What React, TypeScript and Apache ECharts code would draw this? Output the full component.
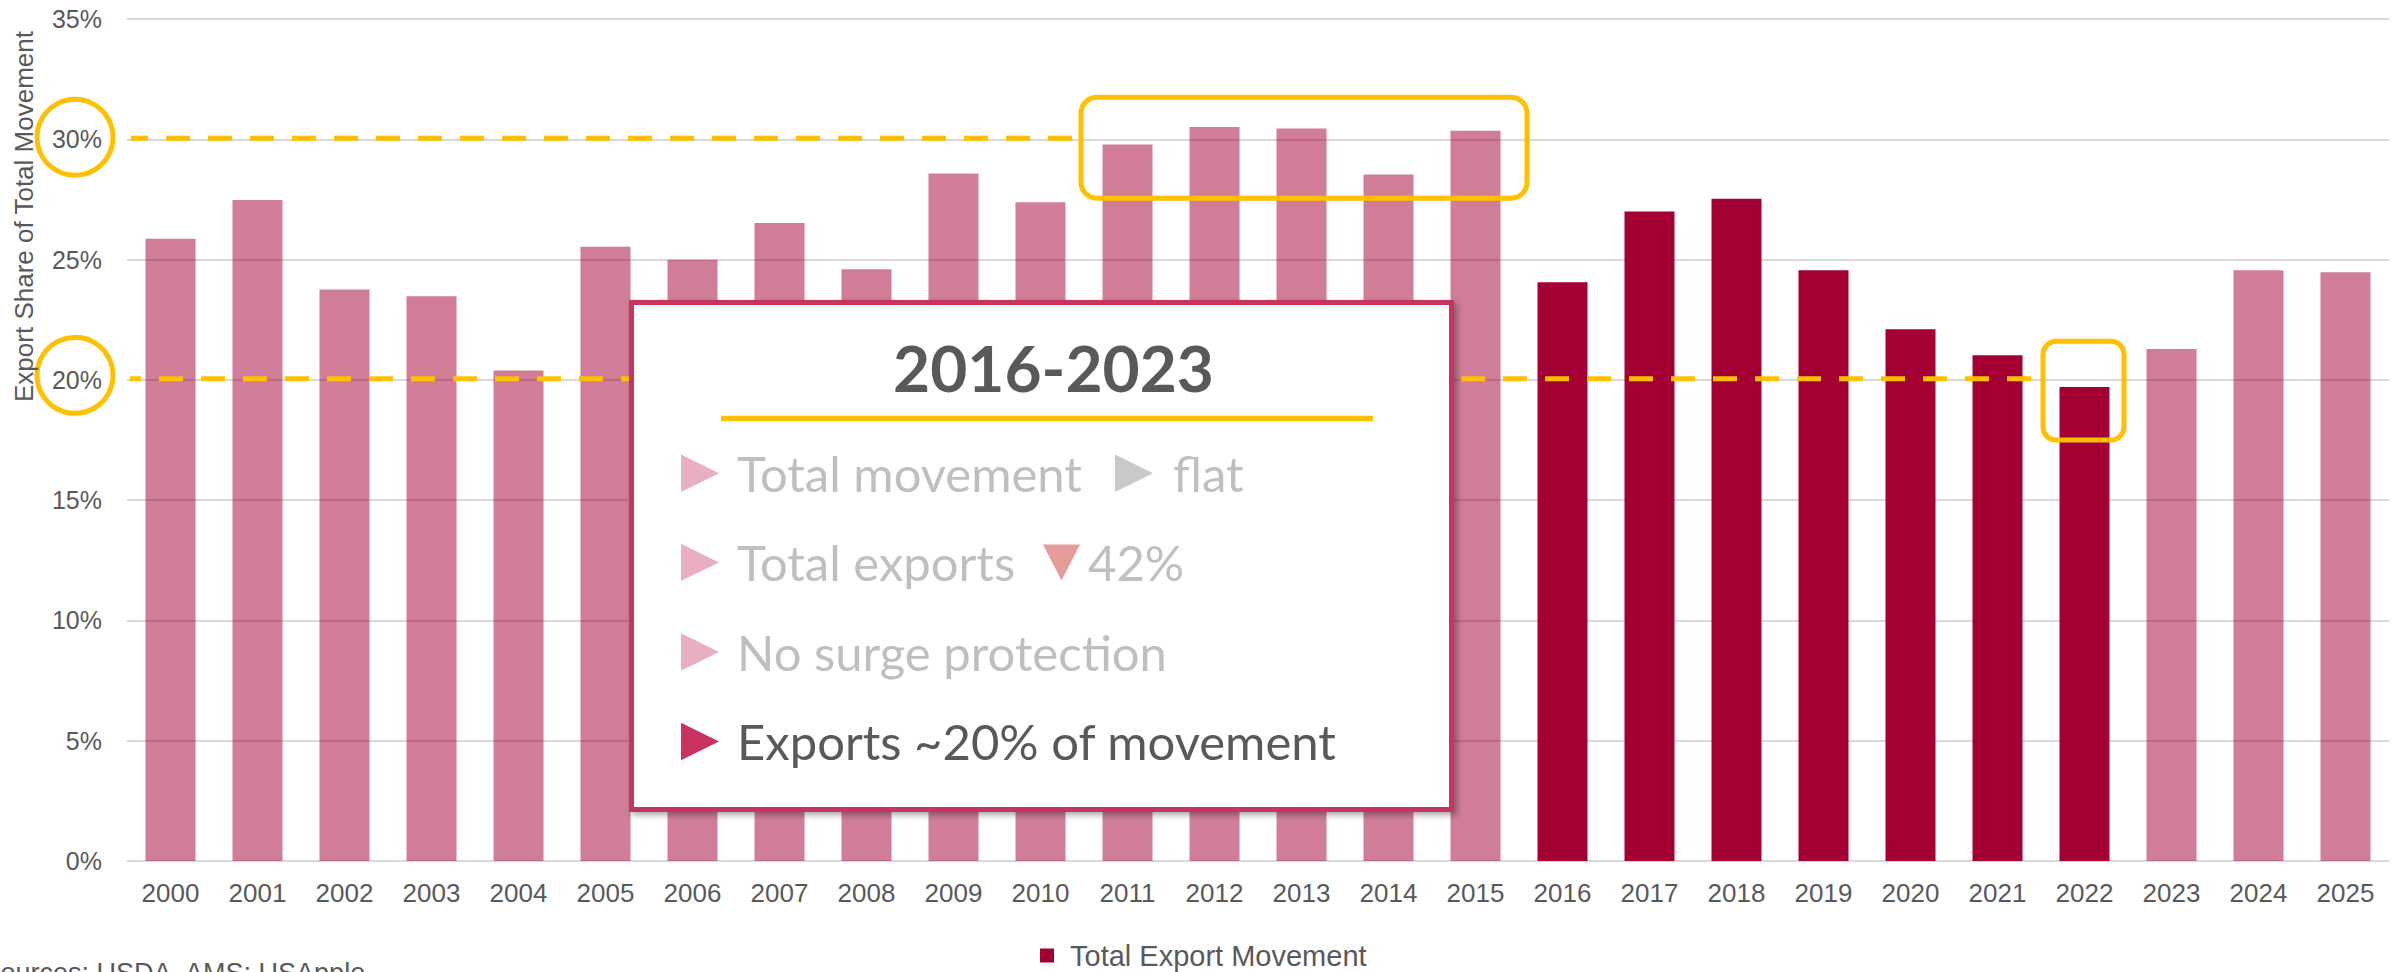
import React, { useEffect, useRef } from "react";
import * as echarts from "echarts";

// ---- data ----
const years = [
  "2000", "2001", "2002", "2003", "2004", "2005", "2006", "2007", "2008", "2009",
  "2010", "2011", "2012", "2013", "2014", "2015", "2016", "2017", "2018", "2019",
  "2020", "2021", "2022", "2023", "2024", "2025",
];
const exportShare = [
  25.87, 27.48, 23.76, 23.48, 20.39, 25.53, 24.99, 26.52, 24.6, 28.58,
  27.38, 29.78, 30.51, 30.45, 28.54, 30.35, 24.06, 27.0, 27.53, 24.56,
  22.1, 21.02, 19.7, 21.28, 24.56, 24.47,
];
const highlightedYears = ["2016", "2017", "2018", "2019", "2020", "2021", "2022"];
const yMin = 0;
const yMax = 35;
const yInterval = 5;
const seriesName = "Total Export Movement";
const yAxisTitle = "Export Share of Total Movement";
const sourceNote = "Sources: USDA, AMS; USApple";
const referenceLevels = [30, 20];
const plateauYears = ["2011", "2012", "2013", "2014", "2015"];
const lowYear = "2022";
const panelTitle = "2016-2023";
const panelLine1 = ["Total movement", "flat"];
const panelLine2 = ["Total exports", "42%"];
const panelLine3 = "No surge protection";
const panelLine4 = "Exports ~20% of movement";

const FONT = "'Liberation Sans', Arial, sans-serif";
const PFONT = "Lato, 'Open Sans', sans-serif";
const DARK = "#A50034";
const GRAY = "#595959";
const YELLOW = "#FFC000";

export default function App() {
  const ref = useRef<HTMLDivElement>(null);

  useEffect(() => {
    if (!ref.current) return;
    const chart = echarts.init(ref.current, null, { renderer: "svg" });

    const barData = exportShare.map((v, i) => ({
      value: v,
      itemStyle: {
        color: DARK,
        opacity: highlightedYears.includes(years[i]) ? 1 : 0.51,
      },
    }));

    chart.setOption({
      animation: false,
      textStyle: { fontFamily: FONT },
      grid: { left: 127, right: 18, top: 19, bottom: 111, containLabel: false },
      legend: {
        data: [seriesName],
        left: 1040,
        top: 941,
        padding: 0,
        itemWidth: 14,
        itemHeight: 14,
        icon: "rect",
        textStyle: { fontSize: 29, color: GRAY, fontFamily: FONT, padding: [0, 0, 0, 11] },
      },
      xAxis: {
        type: "category",
        data: years,
        axisLine: { show: false },
        axisTick: { show: false },
        axisLabel: { fontSize: 26, color: GRAY, margin: 19, fontFamily: FONT },
      },
      yAxis: {
        type: "value",
        min: yMin,
        max: yMax,
        interval: yInterval,
        axisLine: { show: false },
        axisTick: { show: false },
        axisLabel: { formatter: "{value}%", fontSize: 25, color: GRAY, margin: 25, fontFamily: FONT },
        splitLine: { lineStyle: { color: "#D9D9D9", width: 2 } },
      },
      series: [
        {
          name: seriesName,
          type: "bar",
          barWidth: 50,
          itemStyle: { color: DARK },
          data: barData,
        },
      ],
    });

    const cx = (i: number) => chart.convertToPixel({ xAxisIndex: 0 }, i) as number;
    const cy = (v: number) => chart.convertToPixel({ yAxisIndex: 0 }, v) as number;
    const band = cx(1) - cx(0);
    const gridLeft = cx(0) - band / 2;
    const idx = (y: string) => years.indexOf(y);

    const hb1Left = cx(idx(plateauYears[0])) - band / 2 - 3;
    const hb1Right = cx(idx(plateauYears[plateauYears.length - 1])) + band / 2 + 8;
    const hb1Top = cy(31.75);
    const hb1Bottom = cy(27.55);

    const hb2Left = cx(idx(lowYear)) - 41.5;
    const hb2Right = cx(idx(lowYear)) + 39.5;
    const hb2Top = cy(21.6);
    const hb2Bottom = cy(17.5);

    const dashStyle = (offset: number) => ({
      stroke: YELLOW,
      lineWidth: 5,
      lineDash: [24, 18],
      lineDashOffset: offset,
    });

    const rightTri = (x: number, yc: number, fill: string) => ({
      type: "polygon",
      z: 61,
      shape: { points: [[x, yc - 18.7], [x + 38, yc], [x, yc + 18.7]] },
      style: { fill },
    });
    const ptext = (text: string, x: number, y: number, fill: string, extra: any = {}) => ({
      type: "text",
      z: 61,
      x,
      y,
      style: {
        text,
        fill,
        fontSize: 49,
        fontFamily: PFONT,
        align: "left",
        verticalAlign: "middle",
        ...extra,
      },
    });

    const l1 = 473.2, l2 = 562.4, l3 = 652, l4 = 741.5;
    const triX = 681;
    const txX = 737;

    chart.setOption({
      graphic: [
        // reference dashed lines
        {
          type: "line",
          z: 10,
          shape: { x1: gridLeft + 4, y1: cy(referenceLevels[0]) - 1, x2: hb1Left - 8, y2: cy(referenceLevels[0]) - 1 },
          style: dashStyle(7),
        },
        {
          type: "line",
          z: 10,
          shape: { x1: gridLeft + 3, y1: cy(referenceLevels[1]) - 1, x2: hb2Left - 12, y2: cy(referenceLevels[1]) - 1 },
          style: dashStyle(13),
        },
        // circles around tick labels
        {
          type: "circle",
          z: 10,
          shape: { cx: gridLeft - 52, cy: cy(referenceLevels[0]) - 2, r: 38 },
          style: { fill: "none", stroke: YELLOW, lineWidth: 5 },
        },
        {
          type: "circle",
          z: 10,
          shape: { cx: gridLeft - 52, cy: cy(referenceLevels[1]) - 4.5, r: 38 },
          style: { fill: "none", stroke: YELLOW, lineWidth: 5 },
        },
        // highlight boxes
        {
          type: "rect",
          z: 10,
          shape: { x: hb1Left, y: hb1Top, width: hb1Right - hb1Left, height: hb1Bottom - hb1Top, r: 16 },
          style: { fill: "none", stroke: YELLOW, lineWidth: 5 },
        },
        {
          type: "rect",
          z: 10,
          shape: { x: hb2Left, y: hb2Top, width: hb2Right - hb2Left, height: hb2Bottom - hb2Top, r: 13 },
          style: { fill: "none", stroke: YELLOW, lineWidth: 5 },
        },
        // y axis title
        {
          type: "text",
          z: 10,
          x: 24,
          y: 216.5,
          rotation: Math.PI / 2,
          style: {
            text: yAxisTitle,
            fill: GRAY,
            fontSize: 26,
            fontFamily: FONT,
            align: "center",
            verticalAlign: "middle",
          },
        },
        // source note
        {
          type: "text",
          z: 10,
          x: -17.5,
          y: 972.5,
          style: {
            text: sourceNote,
            fill: GRAY,
            fontSize: 27,
            fontFamily: FONT,
            align: "left",
            verticalAlign: "middle",
          },
        },
        // panel
        {
          type: "rect",
          z: 60,
          shape: { x: 631.5, y: 302.5, width: 820, height: 507 },
          style: {
            fill: "#FFFFFF",
            stroke: "#C7365F",
            lineWidth: 5,
            shadowBlur: 6,
            shadowColor: "rgba(0,0,0,0.35)",
            shadowOffsetX: 3,
            shadowOffsetY: 3,
          },
        },
        {
          type: "text",
          z: 61,
          x: 1053.5,
          y: 367,
          style: {
            text: panelTitle,
            fill: GRAY,
            fontSize: 64,
            fontWeight: "bold",
            fontFamily: PFONT,
            align: "center",
            verticalAlign: "middle",
          },
        },
        {
          type: "line",
          z: 61,
          shape: { x1: 721, y1: 418.5, x2: 1373, y2: 418.5 },
          style: { stroke: YELLOW, lineWidth: 5.5 },
        },
        rightTri(triX, l1, "#E9AEBF"),
        ptext(panelLine1[0], txX, l1 - 0.5, "#BFBFBF"),
        rightTri(1115, l1, "#C9C9C9"),
        ptext(panelLine1[1], 1173, l1 - 0.5, "#BFBFBF"),
        rightTri(triX, l2, "#E9AEBF"),
        ptext(panelLine2[0], txX, l2 - 0.5, "#BFBFBF"),
        {
          type: "polygon",
          z: 61,
          shape: { points: [[1043, l2 - 18], [1080, l2 - 18], [1061.5, l2 + 18]] },
          style: { fill: "#E69B9B" },
        },
        ptext(panelLine2[1], 1088, l2 - 0.5, "#BFBFBF"),
        rightTri(triX, l3, "#E9AEBF"),
        ptext(panelLine3, txX, l3 - 0.5, "#BFBFBF"),
        rightTri(triX, l4, "#C8325F"),
        ptext(panelLine4, txX, l4 - 0.5, GRAY),
      ],
    });

    return () => chart.dispose();
  }, []);

  return (
    <div
      ref={ref}
      style={{ position: "absolute", left: 0, top: 0, width: 2407, height: 972 }}
    />
  );
}
